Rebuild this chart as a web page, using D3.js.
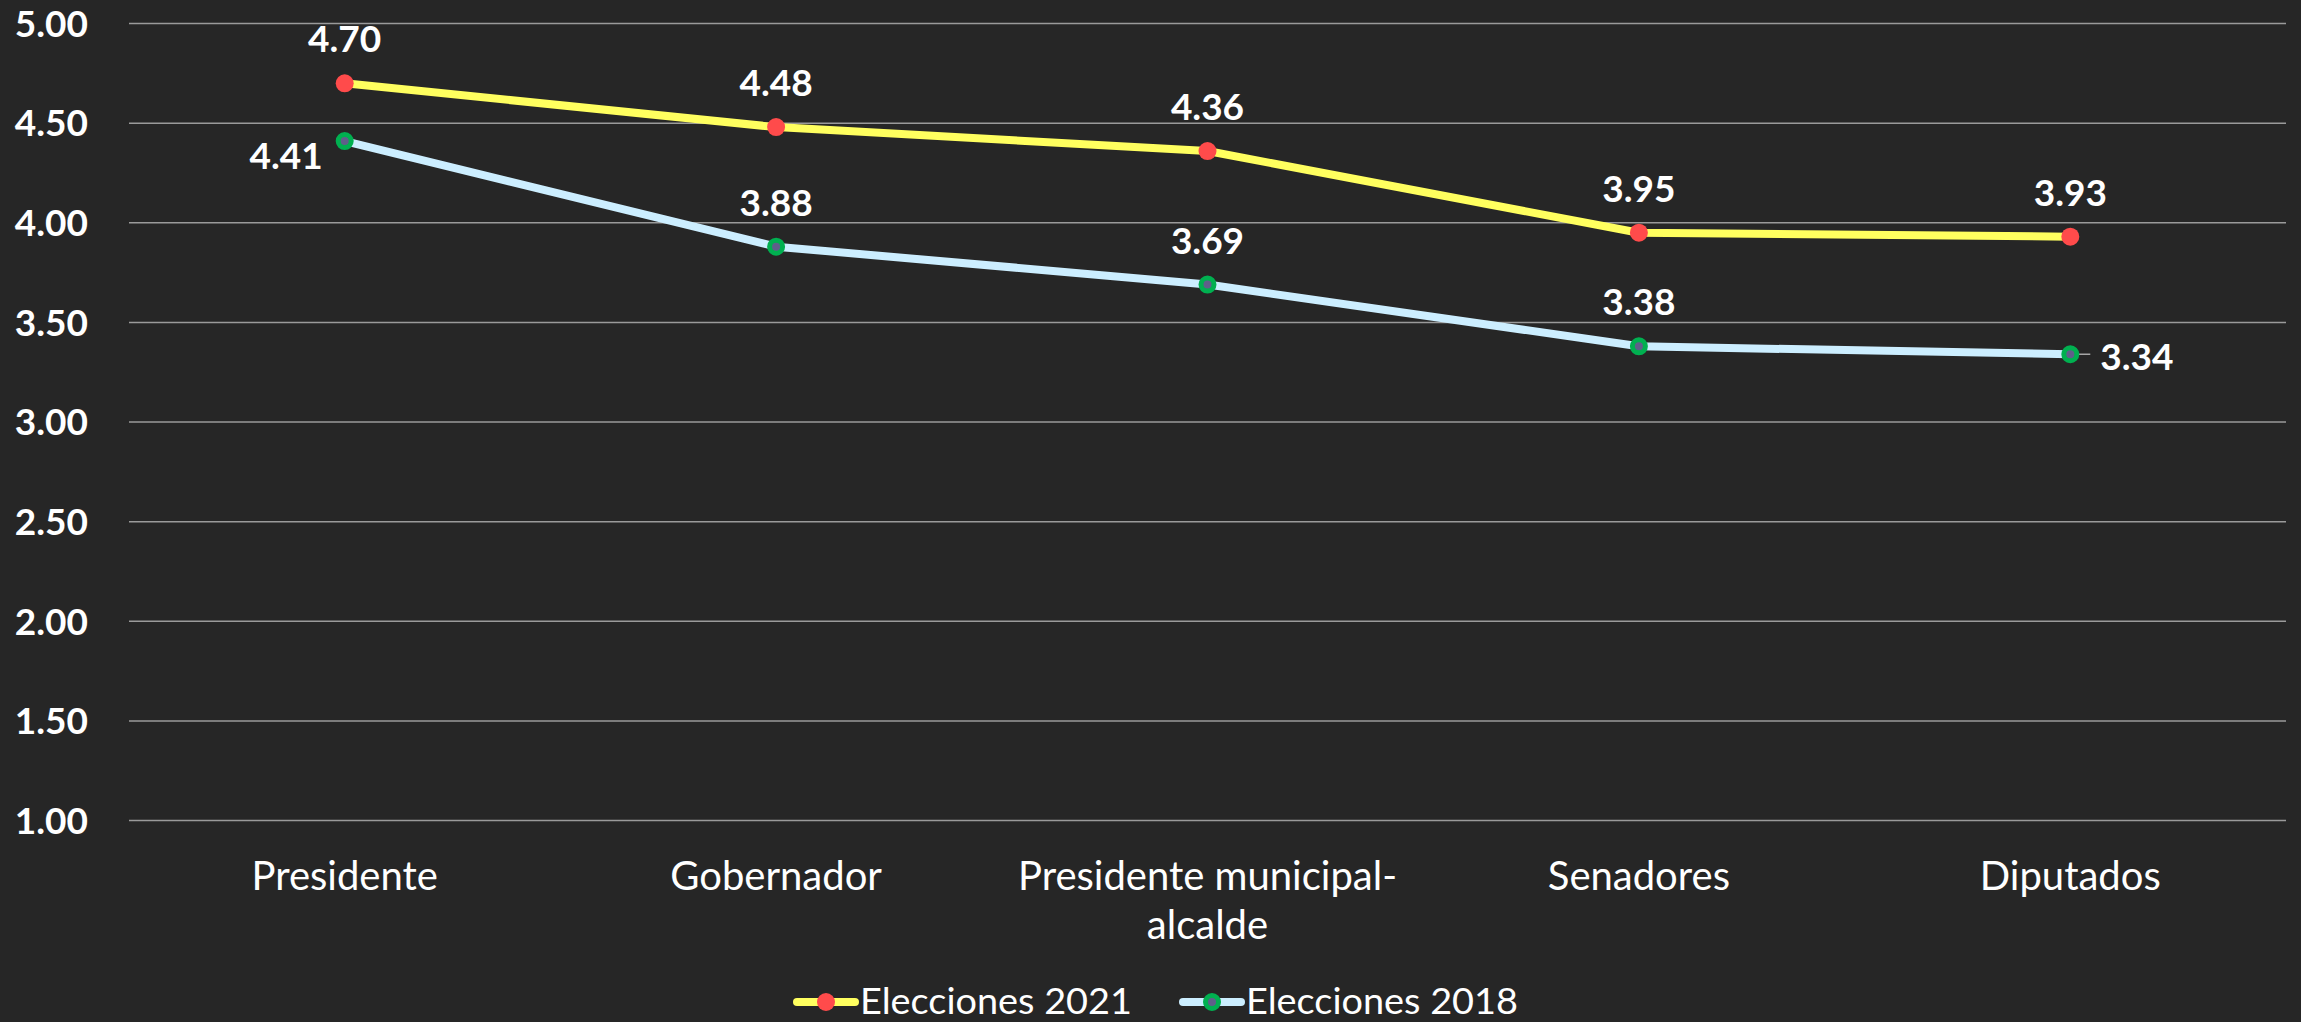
<!DOCTYPE html>
<html>
<head>
<meta charset="utf-8">
<script src="https://cdn.jsdelivr.net/npm/d3@7"></script>
<style>
  html, body { margin: 0; padding: 0; background: #262626; }
  svg { display: block; }
  text { font-family: Lato, "Open Sans", sans-serif; fill: #ffffff; }
</style>
</head>
<body>
<div id="content"></div>
<script>
var width = 2301
var height = 1022

var categories = ["Presidente", "Gobernador", "Presidente municipal-|alcalde", "Senadores", "Diputados"];
var values2021 = [4.70, 4.48, 4.36, 3.95, 3.93];
var values2018 = [4.41, 3.88, 3.69, 3.38, 3.34];
var labelPos2021 = ["top", "top", "top", "top", "top"];
var labelPos2018 = ["left", "top", "top", "top", "right"];
var yTicks = [1.0, 1.5, 2.0, 2.5, 3.0, 3.5, 4.0, 4.5, 5.0];
var seriesNames = ["Elecciones 2021", "Elecciones 2018"];

var margin = { top: 23.5, right: 15, bottom: 201.5, left: 129 };

var svg = d3.select("#content").append("svg").attr("width", width).attr("height", height)

svg.append("rect").attr("width", width).attr("height", height).attr("fill", "#262626");

var xScale = d3.scaleBand()
    .domain(categories)
    .range([margin.left, width - margin.right]);

var yScale = d3.scaleLinear()
    .domain([1, 5])
    .range([height - margin.bottom, margin.top]);

var cx = function (i) { return xScale(categories[i]) + xScale.bandwidth() / 2; };

// gridlines
svg.append("g")
    .selectAll("line")
    .data(yTicks)
    .enter()
    .append("line")
    .attr("x1", margin.left)
    .attr("x2", width - margin.right)
    .attr("y1", d => yScale(d))
    .attr("y2", d => yScale(d))
    .attr("stroke", "#9a9a9a")
    .attr("stroke-width", 1.5);

// y axis labels
svg.append("g")
    .selectAll("text")
    .data(yTicks)
    .enter()
    .append("text")
    .attr("x", 88)
    .attr("y", d => yScale(d))
    .attr("dy", "0.36em")
    .style("text-anchor", "end")
    .style("font-weight", "bold")
    .style("font-size", "37px")
    .text(d => d3.format(".2f")(d));

// category labels
var catLabels = svg.append("g")
    .selectAll("text")
    .data(categories)
    .enter()
    .append("text")
    .attr("x", (d, i) => cx(i))
    .attr("y", height - margin.bottom + 69)
    .style("text-anchor", "middle")
    .style("font-size", "40px");

catLabels.each(function (d) {
    var lines = d.split("|");
    var t = d3.select(this);
    lines.forEach(function (ln, j) {
        t.append("tspan")
            .attr("x", t.attr("x"))
            .attr("dy", j === 0 ? 0 : 49)
            .text(ln);
    });
});

var line = d3.line()
    .x((d, i) => cx(i))
    .y(d => yScale(d));

function drawSeries(values, lineColor, dotFill, dotStroke, positions) {
    var g = svg.append("g");
    g.append("path")
        .datum(values)
        .attr("d", line)
        .attr("fill", "none")
        .attr("stroke", lineColor)
        .attr("stroke-width", 8)
        .attr("stroke-linejoin", "round");

    g.selectAll("circle")
        .data(values)
        .enter()
        .append("circle")
        .attr("cx", (d, i) => cx(i))
        .attr("cy", d => yScale(d))
        .attr("r", dotStroke ? 6.5 : 9)
        .attr("fill", dotFill)
        .attr("stroke", dotStroke || "none")
        .attr("stroke-width", 5);

    values.forEach(function (d, i) {
        var x = cx(i), y = yScale(d), pos = positions[i];
        var t = g.append("text")
            .style("font-weight", "bold")
            .style("font-size", "37px")
            .text(d3.format(".2f")(d));
        if (pos === "top") {
            t.attr("x", x).attr("y", y - 31).style("text-anchor", "middle");
        } else if (pos === "left") {
            t.attr("x", x - 22).attr("y", y + 28).style("text-anchor", "end");
        } else {
            g.insert("line", "circle")
                .attr("x1", x).attr("x2", x + 20)
                .attr("y1", y).attr("y2", y)
                .attr("stroke", "#a6a6a6")
                .attr("stroke-width", 1.5);
            t.attr("x", x + 30).attr("y", y + 16).style("text-anchor", "start");
        }
    });
}

drawSeries(values2021, "#ffff5f", "#ff4b4b", null, labelPos2021);
drawSeries(values2018, "#cceeff", "#5f5f8a", "#00b050", labelPos2018);

// legend
var legendData = [
    { label: seriesNames[0], line: "#ffff5f", fill: "#ff4b4b", stroke: null, x: 797, w: 272 },
    { label: seriesNames[1], line: "#cceeff", fill: "#5f5f8a", stroke: "#00b050", x: 1183, w: 272 }
];

var legendItem = svg.append("g")
    .selectAll("g")
    .data(legendData)
    .enter()
    .append("g")
    .attr("transform", d => `translate(${d.x}, 1002)`);

legendItem.append("line")
    .attr("x1", 0).attr("x2", 58)
    .attr("y1", 0).attr("y2", 0)
    .attr("stroke", d => d.line)
    .attr("stroke-width", 8)
    .attr("stroke-linecap", "round");

legendItem.append("circle")
    .attr("cx", 29).attr("cy", 0)
    .attr("r", d => d.stroke ? 6.5 : 9)
    .attr("fill", d => d.fill)
    .attr("stroke", d => d.stroke || "none")
    .attr("stroke-width", 5);

legendItem.append("text")
    .attr("x", 63)
    .attr("y", 12)
    .attr("textLength", d => d.w)
    .attr("lengthAdjust", "spacingAndGlyphs")
    .style("font-size", "37px")
    .text(d => d.label);
</script>
</body>
</html>
